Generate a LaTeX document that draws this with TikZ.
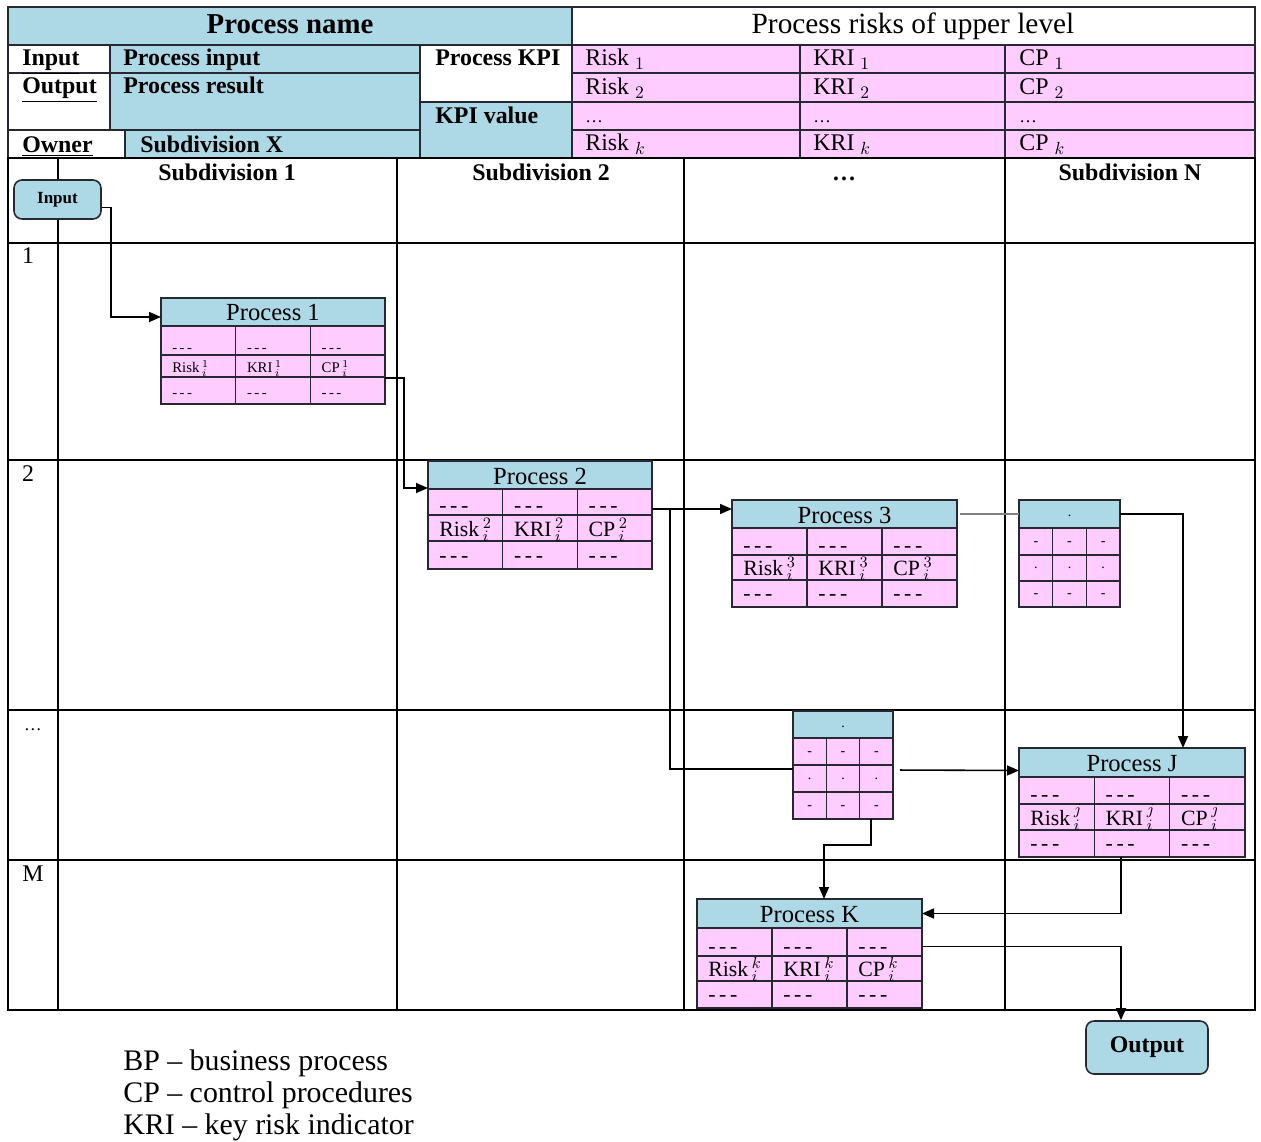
\documentclass[tikz,border=0pt]{standalone}
\usepackage{fontspec}
\setmainfont{Liberation Serif}
\usetikzlibrary{arrows.meta,calc}
\definecolor{bluec}{RGB}{173,216,230}
\definecolor{pinkc}{RGB}{255,204,255}
\definecolor{linec}{RGB}{40,40,50}
\newcommand\myfs[1]{\fontsize{#1}{#1}\selectfont}
% process table: #1 name, #2 x0, #3 x1, #4 top, #5 header bottom, #6 row1 bottom, #7 row2 bottom, #8 bottom
\newcommand\ptab[8]{%
  \pgfmathsetmacro\pca{#2+(#3-#2)/3}%
  \pgfmathsetmacro\pcb{#2+2*(#3-#2)/3}%
  \fill[pinkc] (#2,#5) rectangle (#3,#8);
  \fill[bluec] (#2,#4) rectangle (#3,#5);
  \draw[tline] (#2,#5) -- (#3,#5) (#2,#6) -- (#3,#6) (#2,#7) -- (#3,#7)
     (\pca,#5) -- (\pca,#8) (\pcb,#5) -- (\pcb,#8) (#2,#4) rectangle (#3,#8);
  \node[boxn, minimum width={(#3-#2)*0.02cm}, minimum height={(#5-#4)*0.02cm}] (#1h) at (#2,#4) {};
  \node[boxn, minimum width={(#3-#2)*0.02cm}, minimum height={(#8-#4)*0.02cm}] (#1) at (#2,#4) {};
  \node[font=\myfs{14}, inner sep=0pt] (#1t) at ($(#1h.center)+(0,1)$) {\ptitle};
  \foreach \cx/\lab in {#2/Risk, \pca/KRI, \pcb/CP} {
    \node[celltxt] (#1-\lab-a) at (\cx+11,#6-3) {-\,-\,-};
    \node[celltxt] (#1-\lab-b) at (\cx+11,#7-5) {\lab\,$\mathstrut^{\psup}_{i}$};
    \node[celltxt] (#1-\lab-c) at (\cx+11,#8-7) {-\,-\,-};
  }
}
% dot table
\newcommand\dtab[8]{%
  \pgfmathsetmacro\pw{(#3-#2)/3}%
  \pgfmathsetmacro\pca{#2+\pw}%
  \pgfmathsetmacro\pcb{#2+2*\pw}%
  \fill[pinkc] (#2,#5) rectangle (#3,#8);
  \fill[bluec] (#2,#4) rectangle (#3,#5);
  \draw[tline] (#2,#5) -- (#3,#5) (#2,#6) -- (#3,#6) (#2,#7) -- (#3,#7)
     (\pca,#5) -- (\pca,#8) (\pcb,#5) -- (\pcb,#8) (#2,#4) rectangle (#3,#8);
  \node[boxn, minimum width={(#3-#2)*0.02cm}, minimum height={(#5-#4)*0.02cm}] (#1h) at (#2,#4) {};
  \node[boxn, minimum width={(#3-#2)*0.02cm}, minimum height={(#8-#4)*0.02cm}] (#1) at (#2,#4) {};
  \node[dottxt] (#1t) at ($(#1h.center)+(0,2)$) {.};
  \foreach \cx/\k in {#2/a, \pca/b, \pcb/c} {
    \node[dottxt] (#1-\k-1) at (\cx+\pw/2,{(#5+#6)/2+2}) {-};
    \node[dottxt] (#1-\k-2) at (\cx+\pw/2,{(#6+#7)/2}) {.};
    \node[dottxt] (#1-\k-3) at (\cx+\pw/2,{(#7+#8)/2+2}) {-};
  }
}
\begin{document}
\begin{tikzpicture}[x=0.02cm,y=-0.02cm,
  tline/.style={draw=linec, line width=0.9pt},
  grid/.style={draw=black, line width=0.9pt},
  conn/.style={draw=black, line width=0.9pt},
  arr/.style={conn, -{Triangle[length=0.24cm,width=0.2cm]}},
  boxn/.style={inner sep=0pt, outer sep=0pt, anchor=north west, draw=none},
  celltxt/.style={anchor=base west, inner sep=0pt, font=\pcf},
  dottxt/.style={inner sep=0pt, font=\myfs{8}},
  lbl/.style={anchor=base west, inner sep=0pt, font=\bfseries\myfs{13.6}},
  txt/.style={anchor=base west, inner sep=0pt, font=\myfs{13.6}},
  colh/.style={anchor=base, inner sep=0pt, font=\bfseries\myfs{13.6}},
  rowl/.style={anchor=base, inner sep=0pt, font=\myfs{13.6}},
  iobox/.style={draw=linec, fill=bluec, rounded corners=0.16cm, line width=0.9pt, inner sep=0pt, font=\bfseries},
  legend/.style={anchor=base west, inner sep=0pt, font=\myfs{17}}]
\useasboundingbox (0,0) rectangle (1261,1142);
\fill[white] (0,0) rectangle (1261,1142);

% ---------- header table ----------
\filldraw[fill=bluec, tline] (8,7) rectangle (572,45);
\draw[tline] (572,7) rectangle (1255,45);
\draw[tline] (8,45) rectangle (110,73);
\filldraw[fill=bluec, tline] (110,45) rectangle (420,73);
\draw[tline] (8,73) rectangle (110,130);
\filldraw[fill=bluec, tline] (110,73) rectangle (420,130);
\draw[tline] (8,130) rectangle (125,158);
\filldraw[fill=bluec, tline] (125,130) rectangle (420,158);
\draw[tline] (420,45) rectangle (572,102);
\filldraw[fill=bluec, tline] (420,102) rectangle (572,158);
\foreach \ya/\yb in {45/73,73/102,102/130,130/158}
  \foreach \xa/\xb in {572/800,800/1005,1005/1255}
    \filldraw[fill=pinkc, tline] (\xa,\ya) rectangle (\xb,\yb);

\node[anchor=base, inner sep=0pt, font=\bfseries\myfs{16.4}] (pname) at (290,34) {Process name};
\node[anchor=base, inner sep=0pt, font=\myfs{16.7}] (prisks) at (913,34) {Process risks of upper level};
\node[lbl] (linput) at (22,66) {\underline{Input}};
\node[lbl] (loutput) at (22,94) {\underline{Output}};
\node[lbl] (lowner) at (22,153) {\underline{Owner}};
\node[lbl] (pinput) at (123,66) {Process input};
\node[lbl] (presult) at (123,94) {Process result};
\node[lbl] (subx) at (140,153) {Subdivision X};
\node[lbl] (pkpi) at (435,66) {Process KPI};
\node[lbl] (kpiv) at (435,124) {KPI value};
\node[txt] (r1) at (585,66) {Risk $_1$};
\node[txt] (k1) at (813,66) {KRI $_1$};
\node[txt] (c1) at (1019,66) {CP $_1$};
\node[txt] (r2) at (585,95) {Risk $_2$};
\node[txt] (k2) at (813,95) {KRI $_2$};
\node[txt] (c2) at (1019,95) {CP $_2$};
\node[txt, font=\myfs{10}] (r3) at (585,123) {\ldots};
\node[txt, font=\myfs{10}] (k3) at (813,123) {\ldots};
\node[txt, font=\myfs{10}] (c3) at (1019,123) {\ldots};
\node[txt] (rk) at (585,151) {Risk $_k$};
\node[txt] (kk) at (813,151) {KRI $_k$};
\node[txt] (ck) at (1019,151) {CP $_k$};

% ---------- swimlane grid ----------
\draw[grid] (8,158) rectangle (1255,1010);
\foreach \x in {58,397,684,1005} \draw[grid] (\x,158) -- (\x,1010);
\foreach \y in {243,460,710,860} \draw[grid] (8,\y) -- (1255,\y);

\node[colh] (s1) at (227,181) {Subdivision 1};
\node[colh] (s2) at (541,181) {Subdivision 2};
\node[colh] (s3) at (844,181) {\ldots};
\node[colh] (sn) at (1130,181) {Subdivision N};
\node[rowl] (l1) at (28,264) {1};
\node[rowl] (l2) at (28,481) {2};
\node[rowl, font=\myfs{10}] (l3) at (33,730) {\ldots};
\node[rowl] (lm) at (33,881) {M};

% ---------- input / output ----------
\node[iobox, font=\bfseries\myfs{9.7}, minimum width=1.74cm, minimum height=0.78cm] (in) at (57.5,199.5) {Input};
\node[iobox, font=\bfseries\myfs{13.6}, minimum width=2.44cm, minimum height=1.06cm] (out) at (1147,1047.5) {Output};

% ---------- process tables ----------
\def\ptitle{Process 1}\def\psup{1}\def\pcf{\myfs{8.4}}
\ptab{p1}{161}{385}{298}{326}{355}{377}{404}
\def\ptitle{Process 2}\def\psup{2}\def\pcf{\myfs{12.4}}
\ptab{p2}{428}{652}{461}{489}{515}{541}{569}
\def\ptitle{Process 3}\def\psup{3}
\ptab{p3}{732}{957}{500}{528}{555}{580}{607}
\def\ptitle{Process J}\def\psup{j}
\ptab{pj}{1019}{1245}{748}{777}{804}{830}{857}
\def\ptitle{Process K}\def\psup{k}
\ptab{pk}{697}{922}{899}{928}{956}{981}{1008}
\dtab{d1}{1019}{1120}{500}{528}{555}{581}{607}
\dtab{d2}{793}{893}{711}{738}{765}{792}{819}

% ---------- connectors ----------
\coordinate (j23) at (670,509);
\draw[arr] ($(in.east)+(0,8)$) -- ++(9,0) |- ($(p1h.west)+(0,5)$);
\draw[arr] ($(p1.south east)+(0,-26)$) -- ++(19,0) |- ($(p2h.west)+(0,13)$);
\draw[conn] ($(p2h.south east)+(0,20)$) -- (j23);
\draw[arr] (j23) -- (j23 -| p3.west);
\draw[conn] (j23) |- ($(d2.west)+(0,4)$);
\draw[conn, draw=gray, shorten <=0.06cm] (p3h.east) -- (d1h.west);
\draw[arr] (d1h.east) -| ($(pjh.north)+(51,0)$);
\draw[arr, shorten <=0.14cm] ($(d2.east)+(0,5)$) -- ($(pjh.west)+(0,8)$);
\draw[arr] ($(d2.south)+(28,0)$) -- ++(0,26) -| ($(pkh.north)+(14.5,0)$);
\draw[arr] ($(pj.south)+(-11,0)$) |- (pkh.east);
\draw[arr] ($(pk.east)+(0,-7)$) -| ($(out.north)+(-26,0)$);

% ---------- legend ----------
\node[legend] (lg1) at (123,1070) {BP – business process};
\node[legend] (lg2) at (123,1102) {CP – control procedures};
\node[legend] (lg3) at (123,1134) {KRI – key risk indicator};
\end{tikzpicture}
\end{document}
